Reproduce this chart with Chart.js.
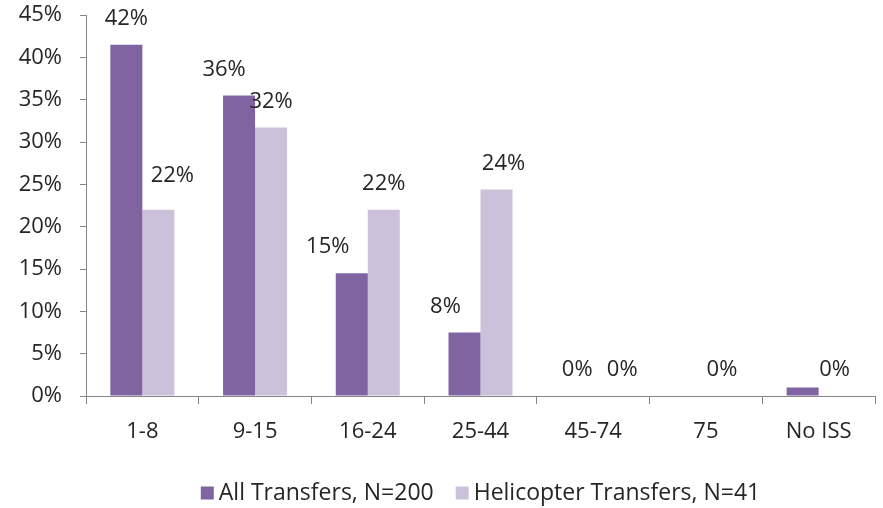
<!DOCTYPE html>
<html>
<head>
<meta charset="utf-8">
<script src="https://cdn.jsdelivr.net/npm/chart.js@4"></script>
<style>
  html, body { margin: 0; padding: 0; background: #fff; }
  #wrap { width: 883px; height: 508px; }
</style>
</head>
<body>
<div id="wrap"><canvas id="issChart" width="883" height="508"></canvas></div>
<script>
// Injury Severity Score groups
const categories = ['1-8', '9-15', '16-24', '25-44', '45-74', '75', 'No ISS'];

// Percent of transfers in each group
const allTransfers = [41.5, 35.5, 14.5, 7.5, 0, 0, 1.0];
const heliTransfers = [22.0, 31.7, 22.0, 24.4, 0, 0, 0];

// Data label text as printed on the chart (null = no label)
const allLabels = ['42%', '36%', '15%', '8%', '0%', null, null];
const heliLabels = ['22%', '32%', '22%', '24%', '0%', '0%', '0%'];

const seriesNames = ['All Transfers, N=200', 'Helicopter Transfers, N=41'];
const yTicks = [0, 5, 10, 15, 20, 25, 30, 35, 40, 45];

const FONT = '"Open Sans", sans-serif';
const FSIZE = 22;
const TEXT = '#262626';
const AXIS = '#868686';
const COLORS = ['#8064A2', '#CCC1DA'];

// small manual label shifts, as in the original
const labelShift = [
    [[0, 0], [-15, 0], [-24, 0], [-19, 0], [0, 0], [0, 0], [0, 0]],
    [[14, -8], [0, 0], [0, 0], [7, 0], [13, 0], [0, 0], [0, 0]]
];
const labelText = [allLabels, heliLabels];

const barLabels = {
    id: 'barLabels',
    afterDatasetsDraw(chart) {
        const ctx = chart.ctx;
        ctx.save();
        ctx.font = FSIZE + 'px ' + FONT;
        ctx.fillStyle = TEXT;
        ctx.textAlign = 'center';
        ctx.textBaseline = 'middle';
        chart.data.datasets.forEach((ds, i) => {
            const meta = chart.getDatasetMeta(i);
            meta.data.forEach((bar, j) => {
                const txt = labelText[i][j];
                if (!txt) return;
                const s = labelShift[i][j];
                ctx.fillText(txt, bar.x + s[0], bar.y - 26 + s[1]);
            });
        });
        ctx.restore();
    }
};

// legend drawn by hand so the spacing matches the original
const bottomLegend = {
    id: 'bottomLegend',
    afterDraw(chart) {
        const ctx = chart.ctx;
        const area = chart.chartArea;
        const box = 13, gapText = 5, gapItem = 22;
        ctx.save();
        ctx.font = '23px ' + FONT;
        ctx.textBaseline = 'middle';
        ctx.textAlign = 'left';
        const widths = seriesNames.map(n => ctx.measureText(n).width);
        let total = 0;
        widths.forEach((w, i) => { total += box + gapText + w + (i ? gapItem : 0); });
        let x = (area.left + area.right) / 2 - total / 2;
        const y = 493;
        seriesNames.forEach((n, i) => {
            ctx.fillStyle = COLORS[i];
            ctx.fillRect(x, y - box / 2, box, box);
            x += box + gapText;
            ctx.fillStyle = TEXT;
            ctx.fillText(n, x, y);
            x += widths[i] + gapItem;
        });
        ctx.restore();
    }
};

const ctx = document.getElementById('issChart').getContext('2d');
new Chart(ctx, {
    type: 'bar',
    data: {
        labels: categories,
        datasets: [{
            label: seriesNames[0],
            data: allTransfers,
            backgroundColor: COLORS[0],
            categoryPercentage: 0.568,
            barPercentage: 1.0
        }, {
            label: seriesNames[1],
            data: heliTransfers,
            backgroundColor: COLORS[1],
            categoryPercentage: 0.568,
            barPercentage: 1.0
        }]
    },
    options: {
        responsive: false,
        animation: false,
        layout: {
            padding: { left: 0, right: 8, top: 15, bottom: 30 }
        },
        plugins: {
            legend: { display: false },
            tooltip: { enabled: false }
        },
        scales: {
            x: {
                grid: {
                    drawOnChartArea: false,
                    color: AXIS,
                    tickLength: 8
                },
                border: { color: AXIS },
                ticks: {
                    font: { family: FONT, size: FSIZE },
                    color: TEXT,
                    padding: 15,
                    maxRotation: 0
                },
                afterFit(scale) {
                    scale.height = 82;
                    scale.paddingLeft = 0;
                    scale.paddingRight = 0;
                }
            },
            y: {
                min: 0,
                max: 45,
                afterBuildTicks(scale) {
                    scale.ticks = yTicks.map(v => ({ value: v }));
                },
                grid: {
                    drawOnChartArea: false,
                    color: AXIS,
                    tickLength: 6
                },
                border: { color: AXIS },
                ticks: {
                    font: { family: FONT, size: FSIZE },
                    color: TEXT,
                    padding: 18,
                    callback: v => v + '%'
                },
                afterFit(scale) {
                    scale.width = 86;
                    scale.paddingTop = 0;
                    scale.paddingBottom = 0;
                }
            }
        }
    },
    plugins: [barLabels, bottomLegend]
});
</script>
</body>
</html>
